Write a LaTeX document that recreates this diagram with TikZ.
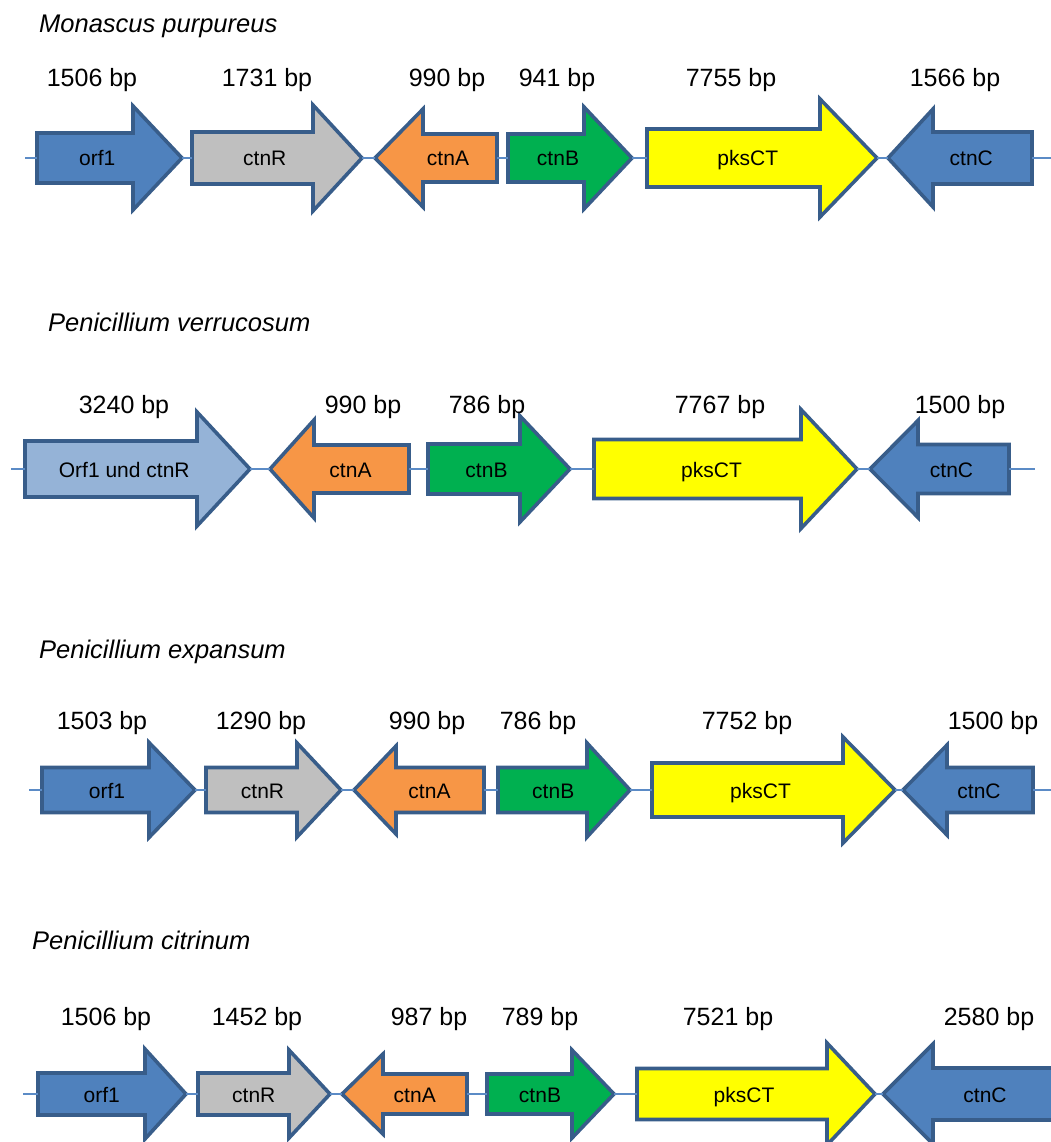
\documentclass[tikz,border=0pt]{standalone}
\usepackage{fontspec}
\setmainfont{Liberation Sans}
\definecolor{gblue}{HTML}{4F81BD}
\definecolor{glight}{HTML}{95B3D7}
\definecolor{ggray}{HTML}{BFBFBF}
\definecolor{gorange}{HTML}{F79646}
\definecolor{ggreen}{HTML}{00B050}
\definecolor{gyellow}{HTML}{FFFF00}
\definecolor{gedge}{HTML}{385D8A}
\definecolor{dnacol}{HTML}{5B8BC6}
\tikzset{
  geneshape/.style={draw=gedge, line width=3.6pt, line join=miter},
  genelabel/.style={inner sep=0pt, font=\fontsize{21}{25}\selectfont},
  bplabel/.style={inner sep=0pt, anchor=base, font=\fontsize{25}{30}\selectfont},
  species/.style={inner sep=0pt, anchor=base west, font=\fontsize{25.5}{30}\selectfont\itshape},
  dna/.style={draw=dnacol, line width=1.5pt},
}
% #1 name, #2 fill, #3 tail x, #4 head start x, #5 tip x, #6 centre y, #7 body half height, #8 head half height, #9 label
\newcommand\mygene[9]{%
  \pgfmathsetmacro\gxpos{(#3+#4)/2+(#5-#4)/4}%
  \draw[geneshape, fill=#2] (#3,{#6-#7}) -- (#4,{#6-#7}) -- (#4,{#6-#8}) -- (#5,#6) -- (#4,{#6+#8}) -- (#4,{#6+#7}) -- (#3,{#6+#7}) -- cycle;
  \coordinate (#1-t) at (#3,#6);
  \coordinate (#1-h) at (#5,#6);
  \node[genelabel, anchor=base] (#1) at (\gxpos,{#6+8}) {#9};
}
\begin{document}
\begin{tikzpicture}[x=1pt, y=-1pt]
\useasboundingbox (0,0) rectangle (1051,1142);
\clip (0,0) rectangle (1051,1142);

% ---------------- Row 1: Monascus purpureus ----------------
\node[species] (t1) at (39,33) {Monascus purpureus};
\mygene{a1}{gblue}{37}{133}{182}{158}{25}{52}{orf1}
\mygene{a2}{ggray}{192}{313}{362}{158}{26}{53}{ctnR}
\mygene{a3}{gorange}{497}{423}{375}{158}{24}{49}{ctnA}
\mygene{a4}{ggreen}{508}{584}{632}{158}{24}{51}{ctnB}
\mygene{a5}{gyellow}{647}{820}{877}{158}{29}{59}{pksCT}
\mygene{a6}{gblue}{1032}{933}{888}{158}{26}{49}{ctnC}
\coordinate (a0) at (25,158);
\coordinate (a7) at (1051,158);
\draw[dna] (a0) -- (a1-t);
\draw[dna] (a1-h) -- (a2-t);
\draw[dna] (a2-h) -- (a3-h);
\draw[dna] (a3-t) -- (a4-t);
\draw[dna] (a4-h) -- (a5-t);
\draw[dna] (a5-h) -- (a6-h);
\draw[dna] (a6-t) -- (a7);
\node[bplabel] (a1bp) at (92,87) {1506 bp};
\node[bplabel] (a2bp) at (267,87) {1731 bp};
\node[bplabel] (a3bp) at (447,87) {990 bp};
\node[bplabel] (a4bp) at (557,87) {941 bp};
\node[bplabel] (a5bp) at (731,87) {7755 bp};
\node[bplabel] (a6bp) at (955,87) {1566 bp};

% ---------------- Row 2: Penicillium verrucosum ----------------
\node[species] (t2) at (48,331) {Penicillium verrucosum};
\mygene{b1}{glight}{25}{197}{250}{469}{28}{57}{Orf1 und ctnR}
\mygene{b3}{gorange}{409}{314}{270}{469}{24}{49}{ctnA}
\mygene{b4}{ggreen}{428}{520}{570}{469}{25}{53}{ctnB}
\mygene{b5}{gyellow}{594}{801}{857}{469}{29.5}{59.5}{pksCT}
\mygene{b6}{gblue}{1009}{918}{870}{469}{24.5}{48.5}{ctnC}
\coordinate (b0) at (11,469);
\coordinate (b7) at (1035,469);
\draw[dna] (b0) -- (b1-t);
\draw[dna] (b1-h) -- (b3-h);
\draw[dna] (b3-t) -- (b4-t);
\draw[dna] (b4-h) -- (b5-t);
\draw[dna] (b5-h) -- (b6-h);
\draw[dna] (b6-t) -- (b7);
\node[bplabel] (b1bp) at (124,413) {3240 bp};
\node[bplabel] (b3bp) at (363,413) {990 bp};
\node[bplabel] (b4bp) at (487,413) {786 bp};
\node[bplabel] (b5bp) at (720,413) {7767 bp};
\node[bplabel] (b6bp) at (960,413) {1500 bp};

% ---------------- Row 3: Penicillium expansum ----------------
\node[species] (t3) at (39,658) {Penicillium expansum};
\mygene{c1}{gblue}{42}{149}{195}{790}{22.5}{47.5}{orf1}
\mygene{c2}{ggray}{206}{297}{341}{790}{22.5}{47}{ctnR}
\mygene{c3}{gorange}{484}{396}{354}{790}{22.5}{44}{ctnA}
\mygene{c4}{ggreen}{498}{587}{630}{790}{22.5}{47}{ctnB}
\mygene{c5}{gyellow}{652}{843}{895}{790}{27}{53}{pksCT}
\mygene{c6}{gblue}{1033}{947}{903}{790}{22.5}{45}{ctnC}
\coordinate (c0) at (29,790);
\coordinate (c7) at (1051,790);
\draw[dna] (c0) -- (c1-t);
\draw[dna] (c1-h) -- (c2-t);
\draw[dna] (c2-h) -- (c3-h);
\draw[dna] (c3-t) -- (c4-t);
\draw[dna] (c4-h) -- (c5-t);
\draw[dna] (c5-h) -- (c6-h);
\draw[dna] (c6-t) -- (c7);
\node[bplabel] (c1bp) at (102,729) {1503 bp};
\node[bplabel] (c2bp) at (261,729) {1290 bp};
\node[bplabel] (c3bp) at (427,729) {990 bp};
\node[bplabel] (c4bp) at (538,729) {786 bp};
\node[bplabel] (c5bp) at (747,729) {7752 bp};
\node[bplabel] (c6bp) at (993,729) {1500 bp};

% ---------------- Row 4: Penicillium citrinum ----------------
\node[species] (t4) at (32,949) {Penicillium citrinum};
\mygene{d1}{gblue}{38}{145}{186}{1094}{21}{45}{orf1}
\mygene{d2}{ggray}{198}{289}{330}{1094}{21}{44}{ctnR}
\mygene{d3}{gorange}{467}{383}{342}{1094}{20}{40}{ctnA}
\mygene{d4}{ggreen}{487}{572}{614}{1094}{20}{44}{ctnB}
\mygene{d5}{gyellow}{637}{827}{875}{1094}{25.5}{51}{pksCT}
\coordinate (d0) at (23,1094);
\draw[dna] (d0) -- (d1-t);
\draw[dna] (d1-h) -- (d2-t);
\draw[dna] (d2-h) -- (d3-h);
\draw[dna] (d3-t) -- (d4-t);
\draw[dna] (d4-h) -- (d5-t);
% ctnC runs past the right edge of the picture
\draw[geneshape, fill=gblue] (1065,1068) -- (933,1068) -- (933,1044) -- (883,1094) -- (933,1144) -- (933,1120) -- (1065,1120) -- cycle;
\coordinate (d6-h) at (883,1094);
\node[genelabel, anchor=base] (d6) at (985,1102) {ctnC};
\draw[dna] (d5-h) -- (d6-h);
\node[bplabel] (d1bp) at (106,1025) {1506 bp};
\node[bplabel] (d2bp) at (257,1025) {1452 bp};
\node[bplabel] (d3bp) at (429,1025) {987 bp};
\node[bplabel] (d4bp) at (540,1025) {789 bp};
\node[bplabel] (d5bp) at (728,1025) {7521 bp};
\node[bplabel] (d6bp) at (989,1025) {2580 bp};
\end{tikzpicture}
\end{document}
